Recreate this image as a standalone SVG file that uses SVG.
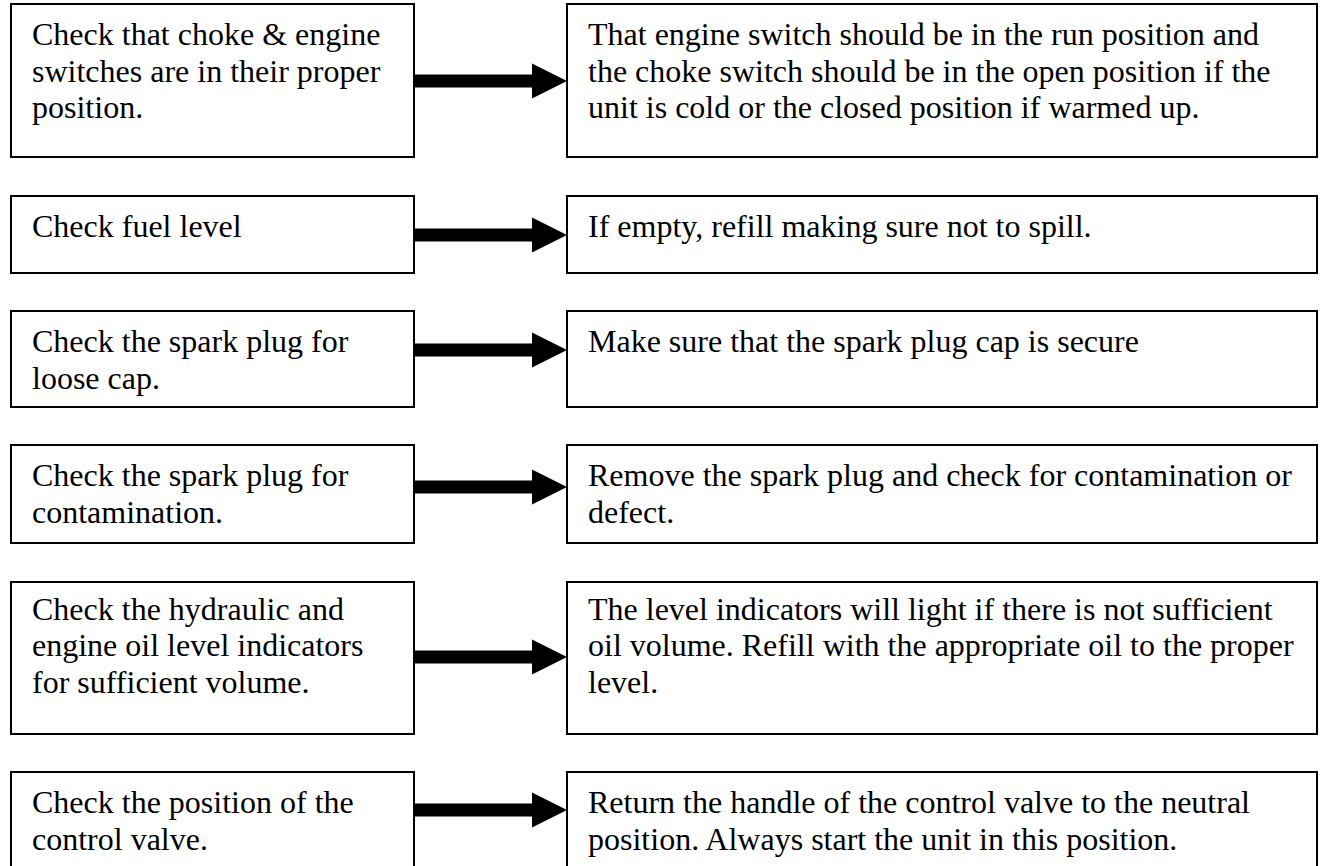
<svg xmlns="http://www.w3.org/2000/svg" xmlns:xlink="http://www.w3.org/1999/xlink" width="1321" height="866" viewBox="0 0 1321 866">
  <style>
    .box { fill: #ffffff; stroke: #000000; stroke-width: 2; }
    .txt { font-family: "Liberation Serif", "Times New Roman", serif; font-size: 32px; fill: #000000; }
    .arrow { fill: #000000; stroke: none; }
  </style>
  <defs>
    <!-- block arrow: thick shaft with a triangular head, origin at the shaft's left middle -->
    <path id="blockArrow" d="M0,-6.5 H118 V-17.5 L153,0 L118,17.5 V6.5 H0 Z"/>
  </defs>
  <rect width="1321" height="866" fill="#ffffff"/>

  <!-- connectors -->
  <g id="connectors" class="arrow">
    <use xlink:href="#blockArrow" transform="translate(414,81)"/>
    <use xlink:href="#blockArrow" transform="translate(414,235)"/>
    <use xlink:href="#blockArrow" transform="translate(414,350)"/>
    <use xlink:href="#blockArrow" transform="translate(414,487)"/>
    <use xlink:href="#blockArrow" transform="translate(414,657)"/>
    <use xlink:href="#blockArrow" transform="translate(414,810)"/>
  </g>

  <!-- row 1 -->
  <g id="check-switches">
    <rect class="box" x="11" y="4" width="403" height="153"/>
    <text class="txt" x="32" y="45">Check that choke &amp; engine</text>
    <text class="txt" x="32" y="82">switches are in their proper</text>
    <text class="txt" x="32" y="118">position.</text>
  </g>
  <g id="fix-switches">
    <rect class="box" x="567" y="4" width="750" height="153"/>
    <text class="txt" x="588" y="45">That engine switch should be in the run position and</text>
    <text class="txt" x="588" y="82">the choke switch should be in the open position if the</text>
    <text class="txt" x="588" y="118">unit is cold or the closed position if warmed up.</text>
  </g>

  <!-- row 2 -->
  <g id="check-fuel">
    <rect class="box" x="11" y="196" width="403" height="77"/>
    <text class="txt" x="32" y="237">Check fuel level</text>
  </g>
  <g id="fix-fuel">
    <rect class="box" x="567" y="196" width="750" height="77"/>
    <text class="txt" x="588" y="237">If empty, refill making sure not to spill.</text>
  </g>

  <!-- row 3 -->
  <g id="check-plug-cap">
    <rect class="box" x="11" y="311" width="403" height="96"/>
    <text class="txt" x="32" y="352">Check the spark plug for</text>
    <text class="txt" x="32" y="389">loose cap.</text>
  </g>
  <g id="fix-plug-cap">
    <rect class="box" x="567" y="311" width="750" height="96"/>
    <text class="txt" x="588" y="352">Make sure that the spark plug cap is secure</text>
  </g>

  <!-- row 4 -->
  <g id="check-plug-contamination">
    <rect class="box" x="11" y="445" width="403" height="98"/>
    <text class="txt" x="32" y="486">Check the spark plug for</text>
    <text class="txt" x="32" y="523">contamination.</text>
  </g>
  <g id="fix-plug-contamination">
    <rect class="box" x="567" y="445" width="750" height="98"/>
    <text class="txt" x="588" y="486">Remove the spark plug and check for contamination or</text>
    <text class="txt" x="588" y="523">defect.</text>
  </g>

  <!-- row 5 -->
  <g id="check-oil">
    <rect class="box" x="11" y="582" width="403" height="152"/>
    <text class="txt" x="32" y="620">Check the hydraulic and</text>
    <text class="txt" x="32" y="656">engine oil level indicators</text>
    <text class="txt" x="32" y="693">for sufficient volume.</text>
  </g>
  <g id="fix-oil">
    <rect class="box" x="567" y="582" width="750" height="152"/>
    <text class="txt" x="588" y="620">The level indicators will light if there is not sufficient</text>
    <text class="txt" x="588" y="656">oil volume. Refill with the appropriate oil to the proper</text>
    <text class="txt" x="588" y="693">level.</text>
  </g>

  <!-- row 6 -->
  <g id="check-valve">
    <rect class="box" x="11" y="772" width="403" height="100"/>
    <text class="txt" x="32" y="813">Check the position of the</text>
    <text class="txt" x="32" y="850">control valve.</text>
  </g>
  <g id="fix-valve">
    <rect class="box" x="567" y="772" width="750" height="100"/>
    <text class="txt" x="588" y="813">Return the handle of the control valve to the neutral</text>
    <text class="txt" x="588" y="850">position. Always start the unit in this position.</text>
  </g>
</svg>
